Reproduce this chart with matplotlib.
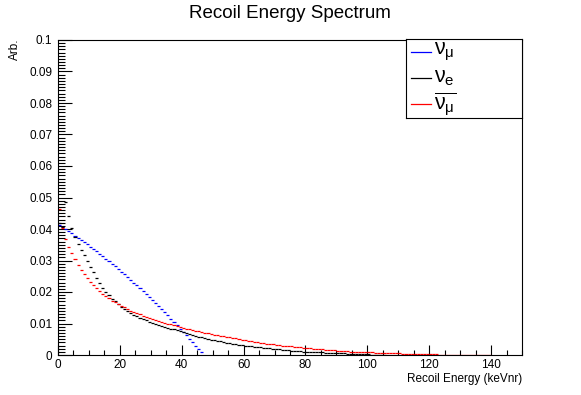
import numpy as np
import matplotlib
matplotlib.use("Agg")
import matplotlib.pyplot as plt
from matplotlib.ticker import MultipleLocator, FuncFormatter

plt.rcParams['font.family'] = ['Liberation Sans', 'DejaVu Sans']
plt.rcParams['mathtext.fontset'] = 'custom'
plt.rcParams['mathtext.rm'] = 'Liberation Sans'
plt.rcParams['mathtext.it'] = 'Liberation Sans'

# 1 keV bins, lower edge = index
bin_width = 1.0

nu_mu = [0.0412, 0.0406, 0.0399, 0.0393, 0.0386, 0.0379, 0.0372, 0.0365, 0.0358, 0.0351,
         0.0344, 0.0336, 0.0329, 0.0321, 0.0314, 0.0306, 0.0298, 0.0290, 0.0281, 0.0273,
         0.0265, 0.0256, 0.0248, 0.0239, 0.0230, 0.0221, 0.0212, 0.0203, 0.0194, 0.0184,
         0.0175, 0.0165, 0.0155, 0.0146, 0.0136, 0.0126, 0.0115, 0.0105, 0.0095, 0.0084,
         0.0074, 0.0063, 0.0052, 0.0041, 0.0030, 0.0019, 0.0008]

nu_e = [0.0420, 0.0405, 0.0487, 0.0441, 0.0402, 0.0374, 0.0352, 0.0333, 0.0316, 0.0300,
        0.0280, 0.0262, 0.0245, 0.0228, 0.0213, 0.0200, 0.0189, 0.0179, 0.0170, 0.0161,
        0.0153, 0.0146, 0.0140, 0.0134, 0.0128, 0.0123, 0.0118, 0.0114, 0.0110, 0.0106,
        0.0102, 0.0099, 0.0096, 0.0093, 0.0090, 0.0087, 0.0084, 0.0081, 0.0078, 0.0075,
        0.0072, 0.0069, 0.0066, 0.0063, 0.0060, 0.0058, 0.0056, 0.0053, 0.0051, 0.0049,
        0.0047, 0.0045, 0.0043, 0.0041, 0.0039, 0.0037, 0.0035, 0.0034, 0.0032, 0.0031,
        0.0029, 0.0028, 0.0027, 0.0026, 0.0025, 0.0024, 0.0023, 0.0022, 0.0021, 0.0020,
        0.0019, 0.0018, 0.0017, 0.0016, 0.0015, 0.0014, 0.0013, 0.0013, 0.0012, 0.0011,
        0.0011, 0.0010, 0.0009, 0.0009, 0.0008, 0.0008, 0.0007, 0.0007, 0.0006, 0.0006,
        0.0005, 0.0005, 0.0005, 0.0004, 0.0004, 0.0003, 0.0003, 0.0003, 0.0002, 0.0002,
        0.0002, 0.0001, 0.0001, 0.0001, 0.0001, 0.00005]

nu_mu_bar = [0.0462, 0.0404, 0.0368, 0.0342, 0.0323, 0.0304, 0.0286, 0.0270, 0.0256, 0.0244,
             0.0232, 0.0222, 0.0212, 0.0203, 0.0195, 0.0187, 0.0180, 0.0173, 0.0167, 0.0161,
             0.0156, 0.0151, 0.0146, 0.0141, 0.0137, 0.0133, 0.0129, 0.0125, 0.0121, 0.0118,
             0.0115, 0.0112, 0.0109, 0.0106, 0.0103, 0.0100, 0.0097, 0.0094, 0.0091, 0.0088,
             0.0086, 0.0083, 0.0081, 0.0079, 0.0077, 0.0075, 0.0073, 0.0071, 0.0069, 0.0067,
             0.0065, 0.0063, 0.0061, 0.0059, 0.0058, 0.0056, 0.0054, 0.0053, 0.0051, 0.0049,
             0.0047, 0.0045, 0.0044, 0.0042, 0.0041, 0.0039, 0.0038, 0.0036, 0.0035, 0.0034,
             0.0033, 0.0031, 0.0030, 0.0029, 0.0028, 0.0027, 0.0026, 0.0025, 0.0024, 0.0023,
             0.0022, 0.0021, 0.0020, 0.0019, 0.0018, 0.0018, 0.0017, 0.0016, 0.0015, 0.0015,
             0.0014, 0.0013, 0.0013, 0.0012, 0.0011, 0.0011, 0.0010, 0.0010, 0.0009, 0.0009,
             0.0008, 0.0008, 0.0007, 0.0007, 0.0007, 0.0006, 0.0006, 0.0006, 0.0005, 0.0005,
             0.0005, 0.0004, 0.0004, 0.0004, 0.0003, 0.0003, 0.0003, 0.0003, 0.0002, 0.0002,
             0.0002, 0.0002, 0.0002, 0.0001, 0.0001, 0.0001, 0.0001, 0.0001, 0.0001, 0.0001,
             0.00005, 0.00005, 0.00005, 0.00005, 0.00005, 0.00005, 0.00005, 0.00005, 0.00005,
             0.00005]

series = [(nu_mu, 'blue', r'$\nu_{\mu}$'),
          (nu_e, 'black', r'$\nu_{e}$'),
          (nu_mu_bar, 'red', r'$\overline{\nu_{\mu}}$')]

fig = plt.figure(figsize=(5.81, 3.95), dpi=100)
ax = fig.add_axes([58/581, 40/395, 464/581, 315/395])

for vals, col, lab in series:
    vals = np.array(vals)
    lo = np.arange(len(vals)) * bin_width
    ax.hlines(vals, lo, lo + bin_width, colors=col, linewidth=0.9)

ax.set_xlim(0, 150)
ax.set_ylim(0, 0.1)
ax.xaxis.set_major_locator(MultipleLocator(20))
ax.xaxis.set_minor_locator(MultipleLocator(5))
ax.yaxis.set_major_locator(MultipleLocator(0.01))
ax.yaxis.set_minor_locator(MultipleLocator(0.001))
ax.yaxis.set_major_formatter(FuncFormatter(lambda v, p: f'{v:g}' if v > 1e-9 else '0'))
ax.tick_params(axis='both', which='both', direction='in', labelsize=8.5, width=0.8)
ax.tick_params(axis='x', which='major', length=7, pad=3)
ax.tick_params(axis='x', which='minor', length=3.5)
ax.tick_params(axis='y', which='major', length=10, pad=4)
ax.tick_params(axis='y', which='minor', length=5)
for s in ax.spines.values():
    s.set_linewidth(0.8)

fig.text(290/581, 1 - 14/395, 'Recoil Energy Spectrum', ha='center', va='center', fontsize=13.5)
fig.text(522/581, 1 - 379/395, 'Recoil Energy (keVnr)', ha='right', va='center', fontsize=8.5)
fig.text(15/581, 1 - 38/395, 'Arb.', ha='center', va='top', rotation=90, fontsize=8.5)

# legend box
lg = fig.add_axes([406/581, 1 - 118/395, 116/581, 79/395])
lg.set_xlim(0, 116)
lg.set_ylim(79, 0)
lg.set_xticks([])
lg.set_yticks([])
for s in lg.spines.values():
    s.set_linewidth(0.8)
for (vals, col, lab), yy in zip(series, [13, 39, 65]):
    lg.plot([5, 25], [yy, yy], color=col, linewidth=0.9)
    lg.text(28, yy, lab, ha='left', va='center', fontsize=15.5)

fig.savefig('out.png', dpi=100)
